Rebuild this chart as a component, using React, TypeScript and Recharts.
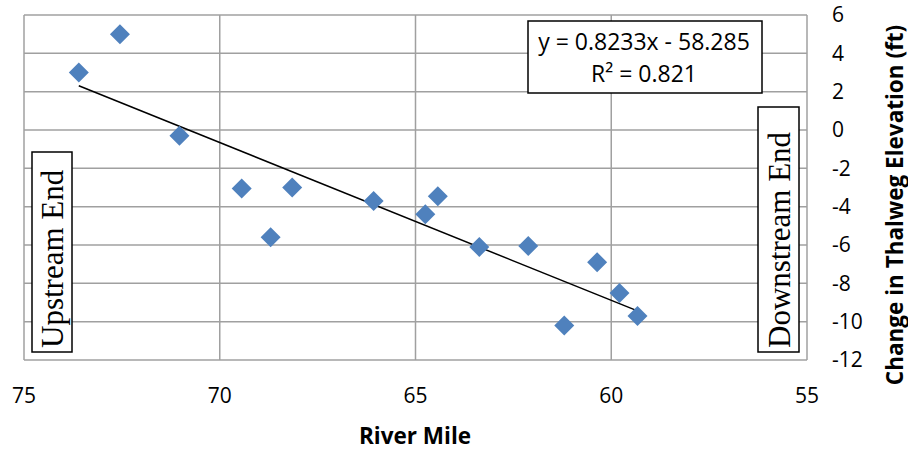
import { ScatterChart, Scatter, XAxis, YAxis, CartesianGrid, ReferenceLine } from 'recharts';

// river mile vs change in thalweg elevation (ft)
const riverMiles = [73.6, 72.55, 71.03, 69.44, 68.7, 68.15, 66.07, 64.75, 64.43, 63.37, 62.12, 61.2, 60.36, 59.79, 59.33];
const elevChanges = [3.0, 5.0, -0.3, -3.05, -5.6, -3.0, -3.7, -4.4, -3.45, -6.1, -6.05, -10.2, -6.9, -8.5, -9.7];

const xTicks = [75, 70, 65, 60, 55];
const yTicks = [-12, -10, -8, -6, -4, -2, 0, 2, 4, 6];

// linear trend shown on the chart
const slope = 0.8233;
const intercept = -58.285;
const trendX = [Math.max(...riverMiles), Math.min(...riverMiles)];

const data = riverMiles.map((x, i) => ({ x, y: elevChanges[i] }));

const FONT = '"Open Sans", "Noto Sans", sans-serif';
const SERIF = '"Liberation Serif", "DejaVu Serif", serif';

const Diamond = (props: any) => {
  const { cx, cy } = props;
  const r = 10;
  return (
    <polygon
      points={`${cx},${cy - r} ${cx + r},${cy} ${cx},${cy + r} ${cx - r},${cy}`}
      fill="#4F81BD"
    />
  );
};

const App = () => {
  return (
    <div style={{ position: 'absolute', left: 0, top: 0, width: 908, height: 451, background: '#fff' }}>
      <ScatterChart width={908} height={451} margin={{ top: 15, right: 0, bottom: 0, left: 24 }}>
        <CartesianGrid stroke="#a0a0a0" strokeWidth={1.5} />
        <XAxis
          type="number"
          dataKey="x"
          domain={[55, 75]}
          ticks={xTicks}
          reversed
          height={91}
          axisLine={false}
          tickLine={false}
          tickSize={0}
          tickMargin={28}
          tick={{ fill: '#000', fontSize: 21, fontFamily: FONT }}
        />
        <YAxis
          type="number"
          dataKey="y"
          orientation="right"
          domain={[-12, 6]}
          ticks={yTicks}
          width={101}
          axisLine={false}
          tickLine={false}
          tickSize={0}
          tickMargin={25}
          tick={{ fill: '#000', fontSize: 21, fontFamily: FONT }}
        />
        <ReferenceLine
          segment={trendX.map((x) => ({ x, y: slope * x + intercept }))}
          stroke="#000"
          strokeWidth={1.5}
          ifOverflow="visible"
        />
        <Scatter data={data} shape={<Diamond />} isAnimationActive={false} />
      </ScatterChart>
      <svg
        width={908}
        height={451}
        style={{ position: 'absolute', left: 0, top: 0, pointerEvents: 'none' }}
      >
        <rect x={528} y={21} width={234} height={72} fill="#fff" stroke="#000" strokeWidth={1.5} />
        <text x={644} y={50} textAnchor="middle" fontSize={23} fontFamily={FONT}>
          y = 0.8233x - 58.285
        </text>
        <text x={644} y={82} textAnchor="middle" fontSize={23} fontFamily={FONT}>
          R² = 0.821
        </text>

        <rect x={32} y={152} width={40} height={200} fill="#fff" stroke="#000" strokeWidth={1.5} />
        <text x={63} y={348} transform="rotate(-90 63 348)" fontSize={31} fontFamily={SERIF}>
          Upstream End
        </text>

        <rect x={758} y={107} width={41} height={245} fill="#fff" stroke="#000" strokeWidth={1.5} />
        <text x={790} y={348} transform="rotate(-90 790 348)" fontSize={31} fontFamily={SERIF}>
          Downstream End
        </text>

        <text x={415} y={435} textAnchor="middle" dominantBaseline="central" fontSize={22.5} fontWeight="bold" fontFamily={FONT}>
          River Mile
        </text>
        <text
          x={894}
          y={205}
          transform="rotate(-90 894 205)"
          textAnchor="middle"
          dominantBaseline="central"
          fontSize={22.5}
          fontWeight="bold"
          fontFamily={FONT}
        >
          Change in Thalweg Elevation (ft)
        </text>
      </svg>
    </div>
  );
};

export default App;
